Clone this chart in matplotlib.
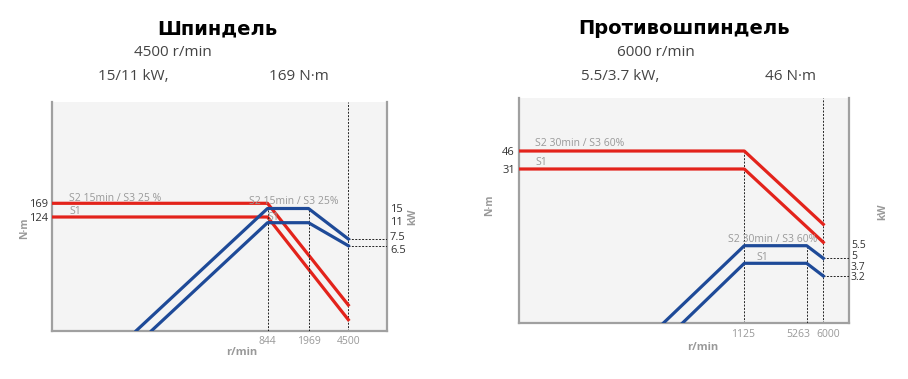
import numpy as np
import matplotlib.pyplot as plt
from matplotlib.transforms import ScaledTranslation

# ---- данные: Шпиндель ----
sp_title = 'Шпиндель'
sp_info = ['4500 r/min', '15/11 kW,', '169 N·m']
sp_speed_ticks = [844, 1969, 4500]
sp_torque_speed = [0, 844, 4500]
sp_torque_s2 = [169, 169, 15.9]
sp_torque_s1 = [124, 124, 13.8]
sp_power_speed_s2 = [330, 844, 1969, 4500]
sp_power_s2 = [0, 15, 15, 7.5]
sp_power_speed_s1 = [390, 844, 1969, 4500]
sp_power_s1 = [0, 11, 11, 6.5]
sp_label_s2 = 'S2 15min / S3 25 %'
sp_label_s2_kw = 'S2 15min / S3 25%'

# ---- данные: Противошпиндель ----
cs_title = 'Противошпиндель'
cs_info = ['6000 r/min', '5.5/3.7 kW,', '46 N·m']
cs_speed_ticks = [1125, 5263, 6000]
cs_torque_speed = [0, 1125, 6000]
cs_torque_s2 = [46, 46, 8.0]
cs_torque_s1 = [31, 31, 5.1]
cs_power_speed_s2 = [720, 1125, 5263, 6000]
cs_power_s2 = [0, 5.5, 5.5, 5]
cs_power_speed_s1 = [815, 1125, 5263, 6000]
cs_power_s1 = [0, 3.7, 3.7, 3.2]
cs_label_s2 = 'S2 30min / S3 60%'

RED = '#e3231b'
BLUE = '#1e4a98'
GRAY = '#999999'
DARK = '#333333'

plt.rcParams['font.family'] = ['Open Sans', 'DejaVu Sans']


def schematic(values, pixels):
    # кусочно-линейная шкала схемы (без масштаба)
    values = np.asarray(values, float)
    pos = np.asarray(pixels, float)
    return (lambda v: np.interp(v, values, pos),
            lambda p: np.interp(p, pos, values))


def draw(fig, rect, d):
    ax = fig.add_axes(rect)
    ax.set_facecolor('#f4f4f4')
    ax.set_xscale('function', functions=schematic(d['x_vals'], d['x_pix']))
    ax.set_xlim(d['x_vals'][0], d['x_vals'][-1])
    ax.set_yscale('function', functions=schematic(d['t_vals'], -np.array(d['t_pix'])))
    ax.set_ylim(d['t_vals'][0], d['t_vals'][-1])

    ax2 = ax.twinx()
    ax2.set_yscale('function', functions=schematic(d['p_vals'], -np.array(d['p_pix'])))
    ax2.set_ylim(d['p_vals'][0], d['p_vals'][-1])
    for s in ax2.spines.values():
        s.set_visible(False)
    ax2.set_yticks([])

    ax.spines['top'].set_visible(False)
    for side in ['left', 'right', 'bottom']:
        ax.spines[side].set_color('#a0a0a0')
        ax.spines[side].set_linewidth(1.6)

    # кривые
    ax.plot(d['tq_speed'], d['tq_s2'], color=RED, lw=2.3, zorder=3)
    ax.plot(d['tq_speed'], d['tq_s1'], color=RED, lw=2.3, zorder=3)
    ax2.plot(d['pw_speed_s2'], d['pw_s2'], color=BLUE, lw=2.3, zorder=3)
    ax2.plot(d['pw_speed_s1'], d['pw_s1'], color=BLUE, lw=2.3, zorder=3)

    # пунктир
    dash = dict(color='#222222', lw=0.7, ls=(0, (2, 1.5)), zorder=2)
    for x0, (axis, top) in zip(d['ticks'], d['guides']):
        if axis == 'full':
            ax.axvline(x0, **dash)
        elif axis == 'torque':
            ax.plot([x0, x0], [0, top], **dash)
        else:
            ax2.plot([x0, x0], [0, top], **dash)
    xmax = d['x_vals'][-1]
    ax2.plot([d['pw_speed_s2'][-1], xmax], [d['pw_s2'][-1]] * 2, **dash)
    ax2.plot([d['pw_speed_s1'][-1], xmax], [d['pw_s1'][-1]] * 2, **dash)

    # оси
    ax.set_xticks(d['ticks'])
    ax.set_xticklabels([str(t) for t in d['ticks']])
    ax.tick_params(axis='x', length=0, pad=4, labelsize=7.5, labelcolor=GRAY)
    for lab, dx in zip(ax.get_xticklabels(), d['tick_dx']):
        lab.set_transform(lab.get_transform() +
                          ScaledTranslation(dx / 100, 0, fig.dpi_scale_trans))
    ax.set_yticks([d['tq_s2'][0], d['tq_s1'][0]])
    ax.set_yticklabels([str(d['tq_s2'][0]), str(d['tq_s1'][0])])
    ax.tick_params(axis='y', length=0, pad=3, labelsize=8, labelcolor=DARK)

    ax.set_xlabel('r/min', fontsize=8, color=GRAY, fontweight='bold')
    ax.xaxis.set_label_coords(*d['xlabel_xy'])
    ax.set_ylabel('N·m', fontsize=7.5, color=GRAY, fontweight='bold')
    ax.yaxis.set_label_coords(*d['ylabel_xy'])
    ax.text(*d['kw_xy'], 'kW', transform=ax.transAxes, rotation=90, fontsize=7.5,
            color=GRAY, fontweight='bold', ha='center', va='center')

    # подписи мощности справа
    kw_vals = [d['pw_s2'][1], d['pw_s1'][1], d['pw_s2'][-1], d['pw_s1'][-1]]
    for v, dy in zip(kw_vals, d['kw_dy']):
        ax2.annotate(f'{v:g}', xy=(1, v), xycoords=('axes fraction', 'data'),
                     xytext=(d['kw_dx'], dy), textcoords='offset pixels',
                     fontsize=d['kw_size'], color=DARK, va='center', ha='left')

    # подписи режимов
    lbl = dict(textcoords='offset pixels', fontsize=7.5, color=GRAY,
               va='center', ha='left', zorder=4)
    ax.annotate(d['lab_s2'], xy=(0, d['tq_s2'][0]), xytext=d['off_t2'], **lbl)
    ax.annotate('S1', xy=(0, d['tq_s1'][0]), xytext=d['off_t1'], **lbl)
    ax2.annotate(d['lab_s2_kw'], xy=(d['pw_speed_s2'][1], d['pw_s2'][1]),
                 xytext=d['off_p2'], **lbl)
    ax2.annotate('S1', xy=(d['pw_speed_s1'][1], d['pw_s1'][1]),
                 xytext=d['off_p1'], **lbl)
    return ax


W, H = 908, 379
fig = plt.figure(figsize=(W / 100, H / 100), dpi=100)

spindle = dict(
    x_vals=[0, 844, 1969, 4500, 5000], x_pix=[52, 267.5, 308.5, 348.3, 387],
    t_vals=[0, 13.8, 15.9, 124, 169, 260], t_pix=[330.7, 319.7, 305, 217, 203.3, 102],
    p_vals=[0, 6.5, 7.5, 11, 15, 40], p_pix=[330.7, 245.7, 239, 222.7, 208.5, 102],
    tq_speed=sp_torque_speed, tq_s2=sp_torque_s2, tq_s1=sp_torque_s1,
    pw_speed_s2=sp_power_speed_s2, pw_s2=sp_power_s2,
    pw_speed_s1=sp_power_speed_s1, pw_s1=sp_power_s1,
    ticks=sp_speed_ticks, tick_dx=[0, 0, 0],
    guides=[('power', sp_power_s2[1]), ('power', sp_power_s2[2]), ('full', None)],
    xlabel_xy=(0.567, -0.071), ylabel_xy=(-0.066, 0.45), kw_xy=(1.078, 0.497),
    kw_dx=3, kw_dy=[-1.5, 0, 1.3, -5], kw_size=8,
    lab_s2=sp_label_s2, lab_s2_kw=sp_label_s2_kw,
    off_t2=(17, 5), off_t1=(17, 5), off_p2=(-19, 6.5), off_p1=(0, 5.7),
)
counter = dict(
    x_vals=[0, 1125, 5263, 6000, 6500], x_pix=[519, 744.3, 806.7, 823.3, 849],
    t_vals=[0, 5.1, 8.0, 31, 46, 80], t_pix=[323.3, 242.3, 224.3, 169, 151, 98],
    p_vals=[0, 3.2, 3.7, 5, 5.5, 20], p_pix=[323.3, 276, 263.3, 258.3, 245.7, 98],
    tq_speed=cs_torque_speed, tq_s2=cs_torque_s2, tq_s1=cs_torque_s1,
    pw_speed_s2=cs_power_speed_s2, pw_s2=cs_power_s2,
    pw_speed_s1=cs_power_speed_s1, pw_s1=cs_power_s1,
    ticks=cs_speed_ticks, tick_dx=[-1.5, -8.5, 5],
    guides=[('torque', cs_torque_s2[1]), ('power', cs_power_s2[2]), ('full', None)],
    xlabel_xy=(0.558, -0.083), ylabel_xy=(-0.073, 0.525), kw_xy=(1.103, 0.495),
    kw_dx=2, kw_dy=[0, -4, 1.8, -1.7], kw_size=7.5,
    lab_s2=cs_label_s2, lab_s2_kw=cs_label_s2,
    off_t2=(16, 7), off_t1=(16, 6.3), off_p2=(-16.3, 5.7), off_p1=(12.4, 5.6),
)

draw(fig, [52 / W, 1 - 330.7 / H, 335 / W, 228.7 / H], spindle)
draw(fig, [519 / W, 1 - 323.3 / H, 330 / W, 225.3 / H], counter)

# заголовки
for cx, sub_cx, left_kw, left_nm, title, info in [
        (217, 173, 98, 269, sp_title, sp_info),
        (684, 655.5, 580.7, 765, cs_title, cs_info)]:
    fig.text(cx / W, 1 - 29 / H, title, ha='center', va='center', fontsize=14,
             fontweight='bold', family='DejaVu Sans', color='black')
    fig.text(sub_cx / W, 1 - 52 / H, info[0], ha='center', va='center',
             fontsize=11, color='#444444')
    fig.text(left_kw / W, 1 - 77 / H, info[1], ha='left', va='center',
             fontsize=11, color='#444444')
    fig.text(left_nm / W, 1 - 77 / H, info[2], ha='left', va='center',
             fontsize=11, color='#444444')

fig.savefig('out.png', dpi=100)
